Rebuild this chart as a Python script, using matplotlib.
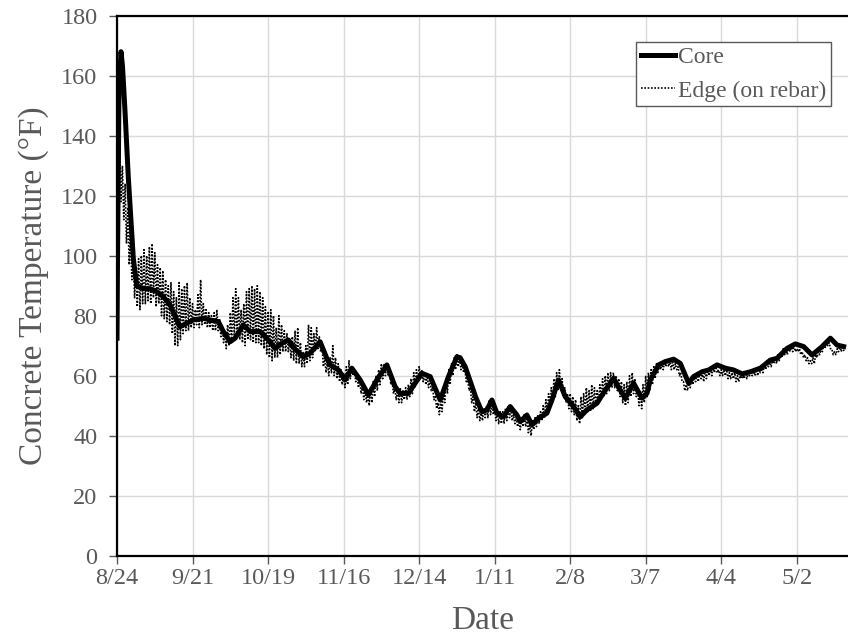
import matplotlib
matplotlib.use("Agg")
import matplotlib.pyplot as plt
import numpy as np

# --- DATA ---
# days after 8/24 (8/24/2019 -> 5/21/2020)
tick_days = [0, 28, 56, 84, 112, 140, 168, 196, 224, 252]
tick_labels = ["8/24", "9/21", "10/19", "11/16", "12/14", "1/11", "2/8", "3/7", "4/4", "5/2"]

# Core (thick line)
core_days = [0.0, 0.19, 0.74, 1.48, 2.04, 2.97, 4.19, 6.05, 7.31, 9.76,
             12.24, 14.73, 17.17, 19.66, 22.14, 23.37, 25.85, 28.3, 32.0, 34.5,
             37.57, 39.43, 41.91, 43.77, 46.85, 49.33, 53.04, 55.53, 58.61, 61.09,
             63.54, 66.02, 69.1, 71.59, 75.3, 77.78, 79.01, 82.09, 84.57, 87.06,
             90.13, 93.21, 96.33, 100.04, 103.12, 104.97, 108.05, 110.53, 113.02, 116.1,
             119.81, 122.89, 126.0, 127.2, 129.08, 131.0, 132.9, 135.27, 137.13, 138.98,
             140.84, 143.29, 145.77, 148.26, 149.48, 151.97, 153.82, 156.27, 159.38, 161.24,
             163.69, 166.17, 169.25, 171.74, 174.22, 177.93, 181.01, 184.09, 186.57, 188.43,
             191.5, 194.62, 196.48, 197.7, 200.78, 203.26, 206.34, 208.83, 211.91, 213.76,
             216.88, 219.33, 222.44, 225.52, 228.6, 231.71, 234.79, 238.5, 242.21, 244.7,
             248.4, 251.48, 254.56, 257.68, 261.39, 264.47, 266.95, 269.4]
core_temp = [72.5, 100, 155, 168, 163, 148, 126, 99, 90, 89,
             89, 88, 86.3, 83.6, 78.6, 76.3, 77.5, 78.6, 79.1, 78.6,
             78, 74.7, 71.3, 72.5, 76.9, 74.7, 74.7, 72.5, 69.1, 70.8,
             71.9, 68.8, 66.3, 67.5, 71.3, 65.8, 63.6, 61.9, 58.6, 62.5,
             58.6, 53.6, 58.6, 63.6, 56.3, 54.1, 54.1, 57.5, 60.8, 59.7,
             51.9, 59.7, 66.3, 66.0, 63, 58, 53, 48, 48.6, 51.9,
             47.5, 46.3, 49.7, 46.9, 44.7, 46.9, 43.6, 45.8, 47.5, 51.9,
             58.6, 53, 49.7, 46.3, 48.6, 50.8, 55.2, 59.1, 55.2, 52.5,
             57.5, 52.5, 54.1, 58.6, 63.6, 64.7, 65.5, 64.1, 57.5, 59.7,
             61.3, 61.9, 63.6, 62.5, 61.9, 60.6, 61.3, 62.5, 65.2, 65.8,
             69.1, 70.6, 69.7, 66.9, 69.7, 72.5, 70.2, 69.7]

# Edge (on rebar): daily high / low, days 1..269
edge_hi = [137, 130, 124, 116, 108, 100, 96, 99, 100, 102, 100, 103, 104, 101,
           97, 96, 95, 92, 90, 91, 88, 86, 91, 89, 90, 91, 86, 84,
           82, 87, 92, 84, 82, 81, 80, 81, 82, 79, 77, 75, 77, 81,
           86, 89, 86, 82, 84, 88, 89, 90, 89, 90, 88, 86, 83, 81,
           82, 80, 76, 80, 77, 75, 74, 72, 73, 75, 76, 71, 68, 70,
           77, 76, 74, 76, 73, 70, 66, 65, 66, 70, 66, 64, 62, 61,
           63, 65, 63, 62, 60, 59, 57, 55, 54, 56, 58, 60, 62, 64,
           64, 64, 62, 58, 56, 55, 56, 55, 56, 57, 59, 61, 62, 63,
           62, 61, 60, 59, 56, 53, 51, 52, 55, 59, 62, 64, 66, 67,
           66, 64, 62, 59, 56, 53, 51, 49, 48, 49, 50, 52, 51, 49,
           48, 48, 48, 49, 50, 49, 47, 46, 45, 46, 47, 46, 44, 45,
           46, 47, 48, 50, 52, 54, 56, 59, 61, 62, 59, 56, 54, 54,
           53, 52, 50, 53, 54, 56, 55, 57, 56, 55, 57, 59, 60, 61,
           61, 61, 60, 59, 58, 57, 58, 60, 61, 59, 56, 55, 57, 60,
           61, 62, 63, 64, 64, 64, 65, 65, 65, 65, 64, 63, 61, 58,
           57, 58, 59, 60, 61, 61, 61, 62, 62, 63, 63, 63, 62, 62,
           62, 62, 61, 61, 61, 60, 60, 60, 61, 61, 61, 62, 62, 62,
           63, 64, 65, 65, 65, 66, 67, 68, 69, 69, 70, 70, 70, 69,
           69, 68, 67, 66, 65, 66, 67, 68, 69, 71, 72, 71, 69, 68,
           69, 70, 70]
edge_lo = [118, 112, 104, 97, 92, 86, 83, 82, 84, 84, 85, 84, 86, 83,
           84, 80, 79, 78, 77, 74, 70, 70, 72, 74, 75, 75, 76, 76,
           77, 76, 77, 77, 76, 76, 75, 75, 75, 73, 71, 69, 70, 71,
           72, 73, 72, 71, 70, 72, 72, 71, 71, 71, 70, 69, 67, 66,
           65, 66, 66, 67, 68, 68, 68, 66, 65, 64, 64, 63, 63, 64,
           65, 66, 68, 69, 68, 63, 61, 60, 61, 60, 59, 58, 57, 56,
           57, 59, 60, 58, 56, 54, 52, 51, 50, 51, 53, 55, 57, 59,
           60, 60, 57, 54, 52, 51, 51, 52, 52, 53, 54, 56, 58, 59,
           58, 57, 56, 55, 52, 49, 47, 48, 51, 54, 57, 60, 62, 63,
           62, 61, 58, 55, 51, 48, 46, 45, 45, 46, 46, 47, 47, 45,
           44, 44, 44, 45, 46, 45, 44, 43, 42, 43, 43, 41, 40, 42,
           43, 44, 45, 46, 47, 49, 51, 53, 55, 56, 53, 51, 49, 48,
           47, 45, 44, 46, 47, 48, 48, 49, 50, 51, 52, 53, 54, 55,
           56, 56, 55, 53, 51, 50, 51, 53, 54, 53, 50, 49, 51, 53,
           55, 57, 59, 61, 62, 62, 63, 63, 62, 62, 62, 60, 58, 55,
           55, 56, 57, 58, 58, 59, 58, 59, 60, 60, 61, 61, 60, 60,
           60, 59, 59, 59, 58, 58, 59, 59, 59, 60, 60, 60, 60, 61,
           61, 62, 63, 63, 64, 64, 65, 66, 67, 67, 68, 68, 68, 68,
           67, 66, 65, 64, 64, 64, 66, 67, 68, 69, 70, 69, 67, 67,
           68, 68, 68]
edge_start = 72.5

# --- build the edge line: start value, then high at day d, low at d+0.5 ---
edge_days = [0.0]
edge_temp = [edge_start]
for i in range(len(edge_hi)):
    d = i + 1
    edge_days += [d, d + 0.5]
    edge_temp += [edge_hi[i], edge_lo[i]]

gray = "#595959"
plt.rcParams['font.family'] = ['Liberation Serif', 'DejaVu Serif']

fig = plt.figure(figsize=(8.48, 6.35), dpi=100)
ax = fig.add_axes([0.138, 0.1249, 0.862, 0.8504])

ax.plot(edge_days, edge_temp, color="black", linewidth=1.2, linestyle=(0, (1, 1)),
        label="Edge (on rebar)", zorder=3)
ax.plot(core_days, core_temp, color="black", linewidth=3.6, label="Core", zorder=4,
        solid_joinstyle="round")

ax.set_xlim(0, 271)
ax.set_ylim(0, 180)
ax.set_xticks(tick_days)
ax.set_xticklabels(tick_labels)
ax.set_yticks(range(0, 181, 20))

ax.grid(True, color="#d9d9d9", linewidth=1.0)
ax.set_axisbelow(True)

for side in ["left", "bottom", "top"]:
    ax.spines[side].set_color("black")
    ax.spines[side].set_linewidth(1.6)
ax.spines["right"].set_visible(False)

ax.tick_params(axis="both", colors=gray, labelsize=17.5, length=6, width=1, direction="out")
ax.tick_params(axis="x", pad=3)
ax.tick_params(axis="y", pad=8)
ax.set_xlabel("Date", fontsize=24, color=gray, labelpad=12)
ax.set_ylabel("Concrete Temperature (°F)", fontsize=24, color=gray, labelpad=9)

handles, labels = ax.get_legend_handles_labels()
leg = ax.legend(handles[::-1], labels[::-1], loc="upper right",
                bbox_to_anchor=(0.9767, 0.9513), borderaxespad=0, fontsize=17,
                fancybox=False, framealpha=1, edgecolor=gray, handlelength=1.45,
                handletextpad=0.12, labelspacing=0.5, borderpad=0.2)
leg.get_frame().set_linewidth(1.0)
for t in leg.get_texts():
    t.set_color(gray)

fig.savefig("out.png", dpi=100)
